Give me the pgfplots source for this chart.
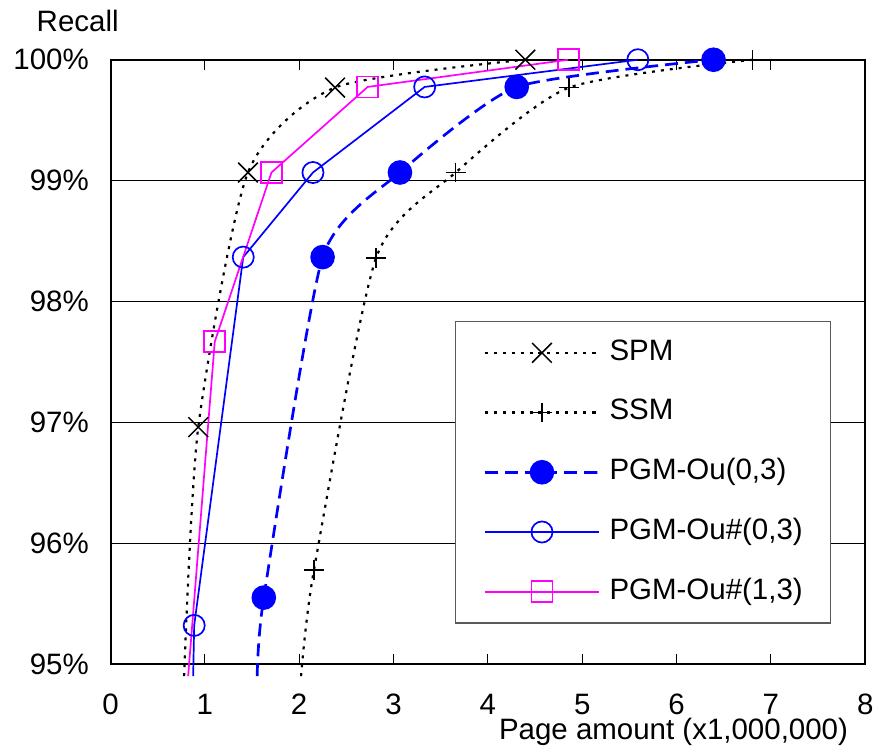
\documentclass[border=0pt]{standalone}
\usepackage{fontspec}
\setmainfont{Liberation Sans}
\usepackage{pgfplots}
\pgfplotsset{compat=1.18}
\definecolor{pblue}{RGB}{0,0,255}
\definecolor{pmag}{RGB}{255,0,255}
\begin{document}
\begin{tikzpicture}
\begin{axis}[
  name=ax,
  scale only axis,
  width=379bp, height=303.5bp,
  font=\fontsize{14.8bp}{17bp}\selectfont,
  xmin=0, xmax=8, ymin=95, ymax=100,
  xtick={0,1,2,3,4,5,6,7,8},
  xticklabels={0,1,2,3,4,5,6,7,8},
  ytick={95,96,97,98,99,100},
  yticklabels={95\%,96\%,97\%,98\%,99\%,100\%},
  tick align=inside,
  major tick length=5bp,
  tick style={black, line width=0.6bp},
  axis line style={black, line width=1bp},
  ymajorgrids,
  grid style={black, line width=0.5bp},
  x tick label style={yshift=-11.4bp},
  y tick label style={xshift=-7.4bp},
  xlabel={Page amount (x1,000,000)},
  x label style={at={(axis description cs:0.746,0)}, anchor=base, yshift=-38bp},
  ylabel={Recall},
  y label style={rotate=-90, at={(axis description cs:-0.0435,1)}, anchor=base, yshift=14bp},
  clip=false,
  legend image code/.code={
    \draw[mark indices={2}]
      plot coordinates {(0bp,0bp)(28.75bp,0bp)(57.5bp,0bp)};
  },
  legend cell align=left,
  legend style={
    at={(axis description cs:0.955,0.568)}, anchor=north east,
    draw=black!65, line width=0.6bp, fill=white,
    inner xsep=14bp, inner ysep=8.5bp,
    row sep=15.5bp,
    nodes={inner sep=0pt, text height=11bp, text depth=3.5bp},
    /tikz/every odd column/.append style={column sep=4.5bp},
  },
]
% SPM
\addplot[black, line width=1.1bp, dash pattern=on 1.5bp off 3bp, smooth, tension=0.4,
  mark=x, mark size=7bp, mark indices={2,3,4,5}, mark options={solid, line width=0.75bp}]
  coordinates {(0.78,94.9) (0.93,96.96) (1.457,99.067) (2.38,99.77) (4.397,100)};
% SSM
\addplot[black, line width=1.1bp, dash pattern=on 1.5bp off 3bp, smooth, tension=0.4,
  mark=+, mark size=5bp, mark indices={2,3,4,5,6}, mark options={solid, line width=0.8bp}]
  coordinates {(2.02,94.9) (2.157,95.78) (2.815,98.36) (3.659,99.067) (4.862,99.77) (6.807,100)};
% PGM-Ou(0,3)
\addplot[pblue, line width=1.35bp, dash pattern=on 6.5bp off 3.5bp, smooth, tension=0.35,
  mark=*, mark size=5.5bp, mark indices={2,3,4,5,6}, mark options={solid, fill=pblue, draw=pblue}]
  coordinates {(1.555,94.9) (1.625,95.55) (2.248,98.367) (3.068,99.067) (4.306,99.775) (6.392,100)};
% PGM-Ou#(0,3)
\addplot[pblue, line width=0.85bp,
  mark=o, mark size=5.3bp, mark indices={2,3,4,5,6}, mark options={solid, fill=white}]
  coordinates {(0.876,94.9) (0.887,95.32) (1.407,98.367) (2.146,99.067) (3.33,99.775) (5.59,100)};
% PGM-Ou#(1,3)
\addplot[pmag, line width=0.85bp,
  mark=square, mark size=5.3bp, mark indices={2,3,4,5}, mark options={solid}]
  coordinates {(0.823,94.9) (1.105,97.667) (1.706,99.067) (2.726,99.775) (4.852,100)};
\legend{SPM,SSM,{PGM-Ou(0,3)},{PGM-Ou\#(0,3)},{PGM-Ou\#(1,3)}}
\end{axis}
\path (ax.south west) ++(-55.5bp,-43.5bp) coordinate (bbA);
\path (ax.north east) ++(5.5bp,30bp) coordinate (bbB);
\path (bbA) rectangle (bbB);
\end{tikzpicture}
\end{document}
